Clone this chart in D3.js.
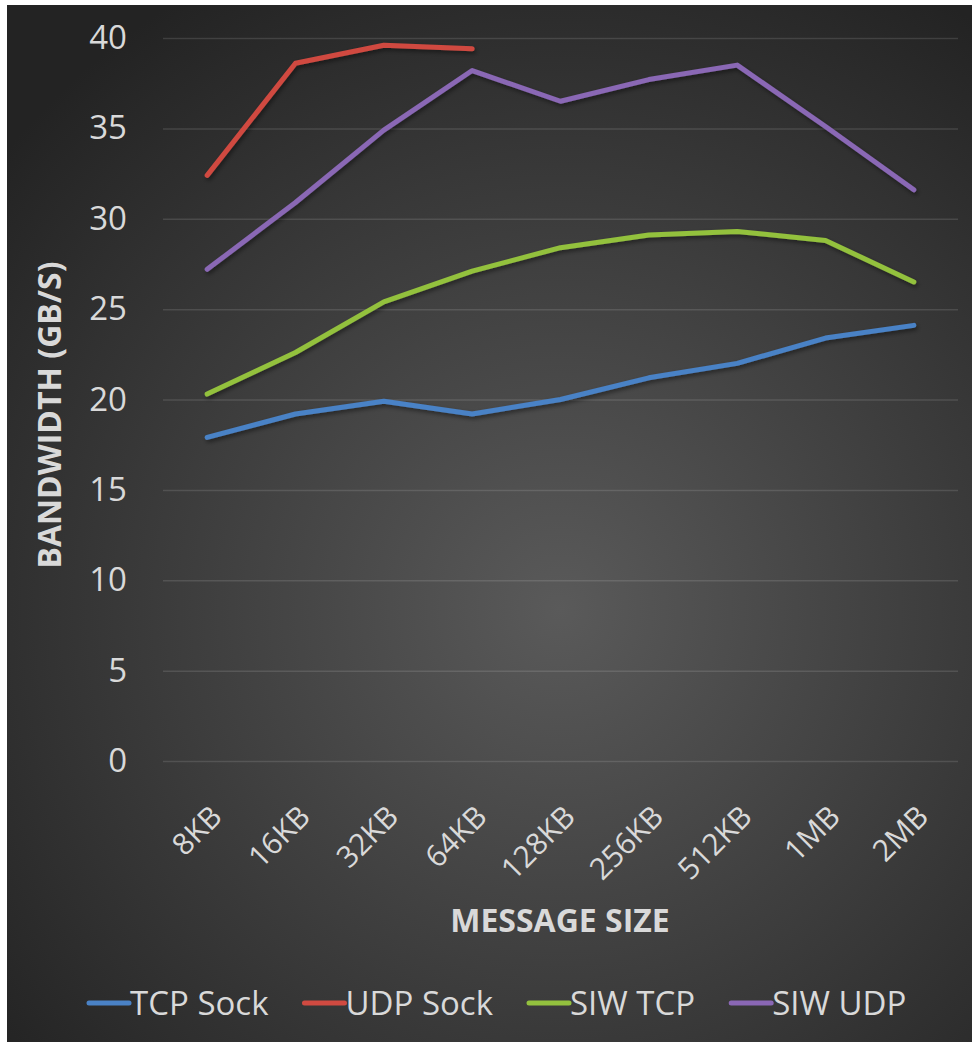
<!DOCTYPE html>
<html>
<head>
<meta charset="utf-8">
<script src="https://cdn.jsdelivr.net/npm/d3@7"></script>
<style>
  body { margin: 0; background: #fff; }
  text { font-family: "Open Sans", sans-serif; fill: #d9d9d9; }
</style>
</head>
<body>
<div id="chart"></div>
<script>
var sizes = ["8KB", "16KB", "32KB", "64KB", "128KB", "256KB", "512KB", "1MB", "2MB"];
var tcpSock = [17.9, 19.2, 19.9, 19.2, 20.0, 21.2, 22.0, 23.4, 24.1];
var udpSock = [32.4, 38.6, 39.6, 39.4];
var siwTcp = [20.3, 22.6, 25.4, 27.1, 28.4, 29.1, 29.3, 28.8, 26.5];
var siwUdp = [27.2, 30.9, 34.9, 38.2, 36.5, 37.7, 38.5, 35.1, 31.6];
var yTicks = [0, 5, 10, 15, 20, 25, 30, 35, 40];

var seriesNames = ["TCP Sock", "UDP Sock", "SIW TCP", "SIW UDP"];
var seriesColors = ["#4a82c6", "#d04a41", "#93c13e", "#8a67b5"];
var series = [tcpSock, udpSock, siwTcp, siwUdp];

var W = 972, H = 1042;
var margin = {top: 38, right: 14, bottom: 281, left: 163};

var svg = d3.select("#chart").append("svg")
    .attr("width", W)
    .attr("height", H);

var defs = svg.append("defs");
var grad = defs.append("radialGradient")
    .attr("id", "bg")
    .attr("gradientUnits", "userSpaceOnUse")
    .attr("cx", 560).attr("cy", 610).attr("r", 720);
grad.append("stop").attr("offset", "0%").attr("stop-color", "#5a5a5a");
grad.append("stop").attr("offset", "100%").attr("stop-color", "#232323");

var shadow = defs.append("filter").attr("id", "shadow")
    .attr("x", "-10%").attr("y", "-10%").attr("width", "120%").attr("height", "120%");
shadow.append("feDropShadow")
    .attr("dx", 1.5).attr("dy", 2.5).attr("stdDeviation", 2)
    .attr("flood-color", "#000").attr("flood-opacity", 0.45);

svg.append("rect")
    .attr("x", 7).attr("y", 5)
    .attr("width", W - 7).attr("height", H - 5)
    .attr("fill", "url(#bg)");

var x = d3.scaleBand().domain(sizes).range([margin.left, W - margin.right]);
var y = d3.scaleLinear().domain([0, 40]).range([H - margin.bottom, margin.top]);

// gridlines + y labels
var yAxis = svg.append("g")
    .attr("transform", "translate(" + margin.left + ",0)")
    .call(d3.axisLeft(y).tickValues(yTicks)
        .tickSize(-(W - margin.right - margin.left))
        .tickPadding(36));
yAxis.select(".domain").remove();
yAxis.selectAll("line")
    .attr("stroke", "#ffffff").attr("stroke-opacity", 0.12).attr("stroke-width", 1.5);
yAxis.selectAll("text")
    .style("font-family", "'Open Sans', sans-serif")
    .style("font-size", "33px")
    .attr("fill", "#d9d9d9");

// x labels
var xAxis = svg.append("g")
    .attr("transform", "translate(0," + (H - margin.bottom) + ")")
    .call(d3.axisBottom(x).tickSize(0).tickPadding(0));
xAxis.select(".domain").remove();
xAxis.selectAll("text")
    .style("font-family", "'Open Sans', sans-serif")
    .style("font-size", "30px")
    .attr("fill", "#d9d9d9")
    .style("text-anchor", "end")
    .attr("dy", "0.35em")
    .attr("transform", "translate(9,50) rotate(-45)");

// axis titles
svg.append("text")
    .attr("x", 560).attr("y", 932)
    .attr("text-anchor", "middle")
    .style("font-size", "32px").style("font-weight", "bold")
    .text("MESSAGE SIZE");

svg.append("text")
    .attr("transform", "translate(61,415) rotate(-90)")
    .attr("text-anchor", "middle")
    .style("font-size", "32px").style("font-weight", "bold")
    .text("BANDWIDTH (GB/S)");

// lines
var line = d3.line()
    .x(function(d, i) { return x(sizes[i]) + x.bandwidth() / 2; })
    .y(function(d) { return y(d); });

series.forEach(function(s, k) {
  svg.append("path")
      .datum(s)
      .attr("d", line)
      .attr("fill", "none")
      .attr("stroke", seriesColors[k])
      .attr("stroke-width", 5)
      .attr("stroke-linecap", "round")
      .attr("stroke-linejoin", "round")
      .attr("filter", "url(#shadow)");
});

// legend
var lx = 89, ly = 1003;
seriesNames.forEach(function(name, k) {
  svg.append("line")
      .attr("x1", lx).attr("x2", lx + 40)
      .attr("y1", ly).attr("y2", ly)
      .attr("stroke", seriesColors[k])
      .attr("stroke-width", 5)
      .attr("stroke-linecap", "round");
  var t = svg.append("text")
      .attr("x", lx + 41).attr("y", ly)
      .attr("dy", "0.36em")
      .style("font-size", "33px")
      .text(name);
  lx = lx + 41 + t.node().getComputedTextLength() + 36;
});
</script>
</body>
</html>
